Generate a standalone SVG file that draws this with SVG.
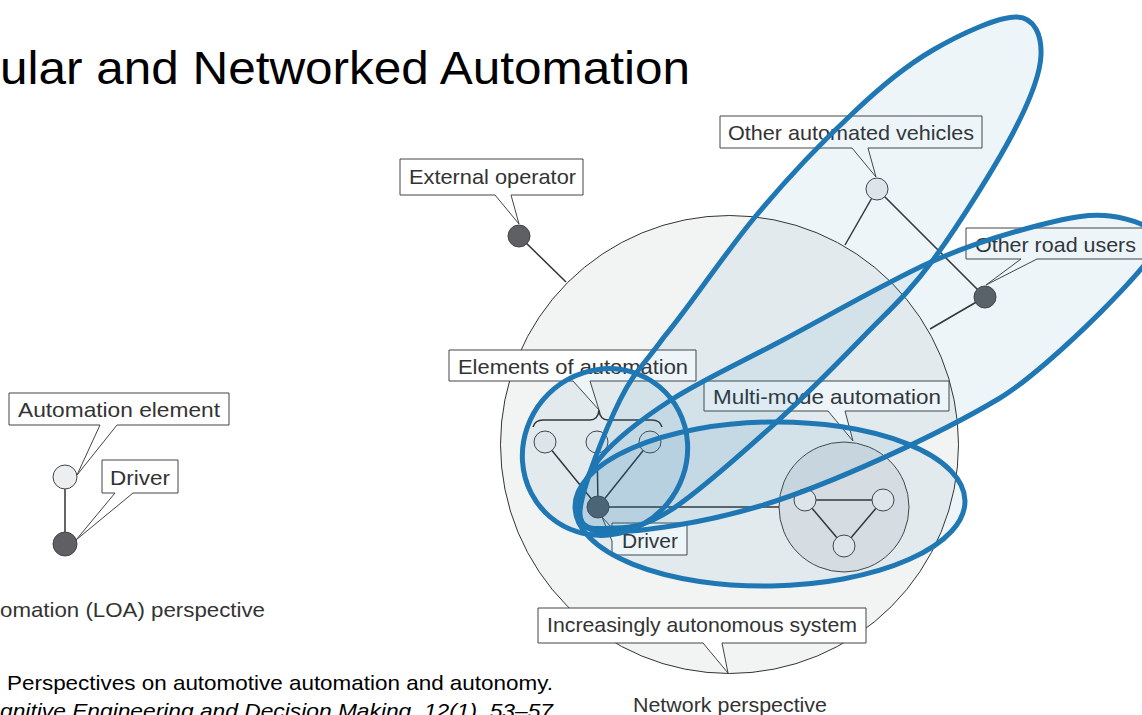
<svg xmlns="http://www.w3.org/2000/svg" width="1142" height="715" viewBox="0 0 1142 715">
<style>
.lbl{font-family:"Liberation Sans",Arial,sans-serif;font-size:21px;fill:#333}
.box{fill:#fff;stroke:#444;stroke-width:1}
.ln{stroke:#333;stroke-width:1.5;fill:none}
.dark{fill:#5f6064;stroke:#444;stroke-width:1}
.light{fill:#eceeef;stroke:#444;stroke-width:1}
.ell{fill:#1f77b4;fill-opacity:0.075;stroke:#1f77b4;stroke-width:5;stroke-linejoin:round}
.title{font-family:"Liberation Sans",Arial,sans-serif;fill:#000}
</style>
<rect width="1142" height="715" fill="#fff"/>
<text class="title" x="0" y="84" font-size="46" textLength="690" lengthAdjust="spacingAndGlyphs">ular and Networked Automation</text>

<g id="system">
<circle cx="729.5" cy="444.5" r="229" fill="#f2f4f4" stroke="#333" stroke-width="1"/>
</g>
<g id="multimode">
<circle cx="844" cy="507" r="65" fill="#e4e6e8" stroke="#444" stroke-width="1"/>
</g>

<g id="connectors">
<line class="ln" x1="65" y1="489" x2="65" y2="532"/>
<line class="ln" x1="519" y1="236" x2="566" y2="282"/>
<line class="ln" x1="877" y1="189" x2="845" y2="245"/>
<line class="ln" x1="877" y1="189" x2="985" y2="297"/>
<line class="ln" x1="985" y1="297" x2="930" y2="329"/>
<line class="ln" x1="598" y1="507" x2="545" y2="442"/>
<line class="ln" x1="598" y1="507" x2="597" y2="442"/>
<line class="ln" x1="598" y1="507" x2="650" y2="442"/>
<line class="ln" x1="598" y1="507" x2="779" y2="507" stroke-width="2"/>
<line class="ln" x1="805" y1="500" x2="883" y2="500" stroke-width="2"/>
<line class="ln" x1="805" y1="500" x2="844" y2="546"/>
<line class="ln" x1="883" y1="500" x2="844" y2="546"/>
<path class="ln" d="M533,427 Q535,420 543,420 H590 Q598,420 599,410 Q600,420 608,420 H652 Q660,420 662,427" stroke-width="1.5"/>
</g>

<g id="mode-a"><circle class="light" cx="805" cy="500" r="11"/></g>
<g id="mode-b"><circle class="light" cx="883" cy="500" r="11"/></g>
<g id="mode-c"><circle class="light" cx="844" cy="546" r="11"/></g>
<g id="loa-element"><circle class="light" cx="65" cy="477" r="12" fill="#f4f4f4"/></g>
<g id="loa-driver"><circle class="dark" cx="65" cy="544" r="12"/></g>
<g id="external-operator"><circle class="dark" cx="519" cy="236" r="11"/></g>
<g id="other-vehicles"><circle class="light" cx="877" cy="189" r="11"/></g>
<g id="road-users"><circle class="dark" cx="985" cy="297" r="11"/></g>
<g id="elements">
<circle class="light" cx="545" cy="442" r="11"/>
<circle class="light" cx="597" cy="442" r="11"/>
<circle class="light" cx="650" cy="442" r="11"/>
</g>
<g id="driver"><circle class="dark" cx="598" cy="507" r="11"/></g>

<g id="labels">
<path class="box" d="M400,159 H583 V195 H511 L519,224 L495,195 H400 Z"/>
<text class="lbl" x="409" y="184" textLength="167" lengthAdjust="spacingAndGlyphs">External operator</text>
<path class="box" d="M720,116 H982 V148 H868 L876,177 L852,148 H720 Z"/>
<text class="lbl" x="728" y="140" textLength="246" lengthAdjust="spacingAndGlyphs">Other automated vehicles</text>
<path class="box" d="M966,228 H1150 V259 H1037 L986,285 L1021,259 H966 Z"/>
<text class="lbl" x="975" y="252" textLength="161" lengthAdjust="spacingAndGlyphs">Other road users</text>
<path class="box" d="M449,350 H696 V381 H590 L599,410 L573,381 H449 Z"/>
<text class="lbl" x="458" y="374" textLength="230" lengthAdjust="spacingAndGlyphs">Elements of automation</text>
<path class="box" d="M704,381 H949 V411 H845 L853,441 L828,411 H704 Z"/>
<text class="lbl" x="713" y="404" textLength="228" lengthAdjust="spacingAndGlyphs">Multi-mode automation</text>
<path class="box" d="M612,523 H687 V555 H612 V541 L602,517 L612,528 Z"/>
<text class="lbl" x="622" y="548" textLength="56" lengthAdjust="spacingAndGlyphs">Driver</text>
<path class="box" d="M538,608 H866 V643 H722 L728,673 L703,643 H538 Z"/>
<text class="lbl" x="547" y="632" textLength="310" lengthAdjust="spacingAndGlyphs">Increasingly autonomous system</text>
<path class="box" d="M9,393 H229 V425 H117 L77,475 L100,425 H9 Z"/>
<text class="lbl" x="18" y="417" textLength="202" lengthAdjust="spacingAndGlyphs">Automation element</text>
<path class="box" d="M102,460 H178 V493 H133 L76,540 L115,493 H102 Z"/>
<text class="lbl" x="110" y="485" textLength="60" lengthAdjust="spacingAndGlyphs">Driver</text>
</g>

<g id="captions">
<text class="lbl" x="0" y="617" textLength="265" lengthAdjust="spacingAndGlyphs">omation (LOA) perspective</text>
<text class="lbl" x="633" y="712" textLength="194" lengthAdjust="spacingAndGlyphs">Network perspective</text>
<text class="title" x="7" y="690" font-size="21" textLength="546" lengthAdjust="spacingAndGlyphs">Perspectives on automotive automation and autonomy.</text>
<text class="title" x="0" y="718" font-size="21" font-style="italic" textLength="553" lengthAdjust="spacingAndGlyphs">gnitive Engineering and Decision Making, 12(1), 53–57</text>
</g>

<g id="scopes">
<path id="scope-vehicles" class="ell" d="M580,512 C580.8,490.7 605.5,429.2 620,400 C634.5,370.8 642,367.5 664,337 C689.5,306.5 724,254.3 755,217 C786,179.7 823.3,140.8 853,113 C882.7,85.2 905.7,66 933,50 C960.3,34 999,16.2 1017,17 C1035,17.8 1041.7,35.7 1041,55 C1040.3,74.3 1031,98.8 1013,133 C995,167.2 958,226 933,260 C908,294 890.2,309 863,337 C835.8,365 802,399.2 770,428 C738,456.8 696.8,493.3 671,510 C645.2,526.7 630.2,527.7 615,528 C599.8,528.3 579.2,533.3 580,512 Z"/>
<path id="scope-road" class="ell" d="M578,512 C577.7,499.7 584.5,476.7 600,458 C615.5,439.3 640.5,419.7 671,400 C701.5,380.3 739.7,363 783,340 C826.3,317 888.2,281.2 931,262 C973.8,242.8 1010.2,232.7 1040,225 C1069.8,217.3 1090,213.5 1110,216 C1130,218.5 1155.8,226.8 1160,240 C1164,253 1050,368 1000,398 C940,434 830,485 760,506 C705,522.5 640,533 602,532 C586.5,530.3 578.3,524.3 578,512 Z"/>
<ellipse id="scope-elements" class="ell" cx="605" cy="452" rx="85" ry="81" transform="rotate(-50 605 452)"/>
<ellipse id="scope-multimode" class="ell" cx="770" cy="504" rx="195" ry="82" transform="rotate(-1 770 504)"/>
</g>
</svg>
